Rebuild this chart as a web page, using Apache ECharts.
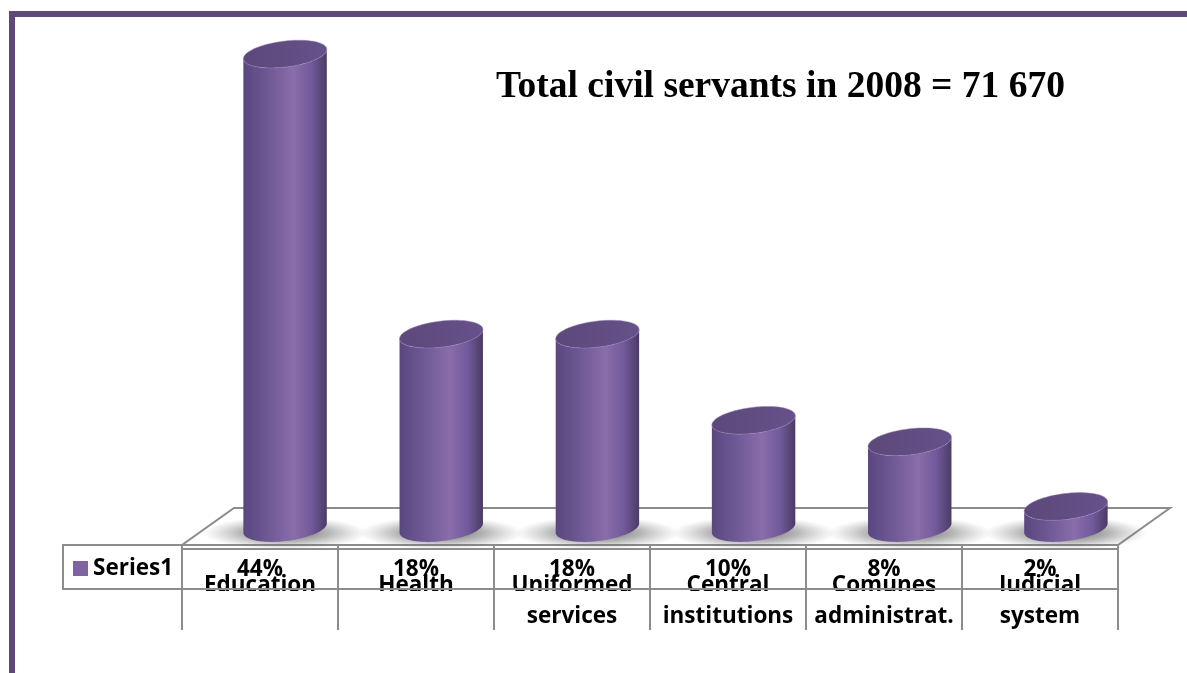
<!DOCTYPE html>
<html>
<head>
<meta charset="utf-8">
<script src="https://cdn.jsdelivr.net/npm/echarts@6/dist/echarts.min.js"></script>
<style>
  html, body { margin: 0; padding: 0; background: #ffffff; }
  #main { width: 1187px; height: 673px; }
</style>
</head>
<body>
<div id="main"></div>
<script>
// Civil servants by sector, share of total (2008)
const categories = ['Education', 'Health', 'Uniformed\nservices', 'Central\ninstitutions', 'Comunes\nadministrat.', 'Judicial\nsystem'];
const values = [44, 18, 18, 10, 8, 2];
const seriesName = 'Series1';
const titleText = 'Total civil servants in 2008 = 71 670';

// layout of the two grids: 3D bars (0) and data table (1)
const GRID_BARS = { left: 207, right: 43, top: 11, bottom: 145 };
const GRID_TABLE = { left: 182, right: 69, top: 545, height: 85 };
const DEPTH = { dx: 52, dy: -37 };   // floor depth offset
const LINE = '#8c8c8c';
const FRAME = '#5f497a';
const CELL_FONT = '"Open Sans", sans-serif';

// cylinder geometry
const RX = 42, RY = 13, TILT = -7 * Math.PI / 180;
const cT = Math.cos(TILT), sT = Math.sin(TILT);
const T0 = Math.atan(-RY * sT / (RX * cT));

function ellPt(cx, cy, t) {
  const ex = RX * Math.cos(t), ey = RY * Math.sin(t);
  return [cx + ex * cT - ey * sT, cy + ex * sT + ey * cT];
}
function arc(cx, cy, from, to, n) {
  const pts = [];
  for (let k = 0; k <= n; k++) pts.push(ellPt(cx, cy, from + (to - from) * k / n));
  return pts;
}

const chart = echarts.init(document.getElementById('main'));

const bodyGradient = new echarts.graphic.LinearGradient(0, 0, 1, 0, [
  { offset: 0, color: '#5a477f' },
  { offset: 0.3, color: '#6f5996' },
  { offset: 0.6, color: '#8a6dab' },
  { offset: 0.82, color: '#71599a' },
  { offset: 1, color: '#4b3b64' }
]);
const capGradient = new echarts.graphic.LinearGradient(0, 0, 1, 0, [
  { offset: 0, color: '#5c4879' },
  { offset: 1, color: '#66528a' }
]);
const shadowGradient = new echarts.graphic.RadialGradient(0.5, 0.5, 0.5, [
  { offset: 0, color: 'rgba(40,40,40,0.75)' },
  { offset: 0.55, color: 'rgba(80,80,80,0.4)' },
  { offset: 1, color: 'rgba(120,120,120,0)' }
]);

function renderCylinder(params, api) {
  const i = api.value(0), v = api.value(1);
  const top = api.coord([i, v]);
  const base = api.coord([i, 0]);
  const cx = base[0];
  const bottomArc = arc(cx, base[1], T0, T0 + Math.PI, 40);
  const topArc = arc(cx, top[1], T0 + Math.PI, T0, 40);
  const cap = arc(cx, top[1], 0, Math.PI * 2, 72);
  return {
    type: 'group',
    children: [
      {
        type: 'circle',
        shape: { cx: cx, cy: base[1] + 5, r: 82 },
        scaleY: 0.2, originX: cx, originY: base[1] + 5,
        style: { fill: shadowGradient }
      },
      {
        type: 'polygon',
        shape: { points: bottomArc.concat(topArc) },
        style: { fill: bodyGradient }
      },
      {
        type: 'polygon',
        shape: { points: cap },
        style: { fill: capGradient, stroke: 'rgba(150,130,190,0.6)', lineWidth: 0.8 }
      }
    ]
  };
}

function renderCell(params, api) {
  const i = api.value(0), v = api.value(1);
  const cs = params.coordSys;
  const cx = api.coord([i, 0])[0];
  const w = api.size([1, 0])[0];
  const x0 = cx - w / 2, x1 = cx + w / 2;
  const yTop = cs.y + 4, yMid = cs.y + 44, yBot = cs.y + cs.height;
  const lines = categories[i].split('\n');
  const font = { fontFamily: CELL_FONT, fontWeight: 'bold', fontSize: 22.5, fill: '#000', align: 'center', verticalAlign: 'middle' };
  const children = [
    { type: 'text', style: Object.assign({ text: v + '%', x: cx, y: cs.y + 25 }, font) },
    { type: 'text', style: Object.assign({ text: lines[0], x: cx, y: cs.y + 41 }, font) },
    // first category line is cut off by the row border
    { type: 'rect', shape: { x: x0 + 2, y: yMid + 2, width: w - 4, height: 10 }, style: { fill: '#fff' } },
    { type: 'line', shape: { x1: x0, y1: yTop, x2: x1, y2: yTop }, style: { stroke: LINE, lineWidth: 2 } },
    { type: 'line', shape: { x1: x0, y1: yMid, x2: x1, y2: yMid }, style: { stroke: LINE, lineWidth: 2 } },
    { type: 'line', shape: { x1: x0, y1: yTop - 4, x2: x0, y2: yBot }, style: { stroke: LINE, lineWidth: 2 } },
    { type: 'line', shape: { x1: x1, y1: yTop - 4, x2: x1, y2: yBot }, style: { stroke: LINE, lineWidth: 2 } }
  ];
  if (lines[1]) {
    children.push({ type: 'text', style: Object.assign({ text: lines[1], x: cx, y: cs.y + 72 }, font) });
  }
  return { type: 'group', children: children };
}

// floor of the 3D plot, following the table's front edge
const fl = GRID_TABLE.left, fr = 1187 - GRID_TABLE.right, fy = GRID_TABLE.top;
const floorPts = [[fl, fy], [fr, fy], [fr + DEPTH.dx, fy + DEPTH.dy], [fl + DEPTH.dx, fy + DEPTH.dy]];

chart.setOption({
  animation: false,
  backgroundColor: '#ffffff',
  title: {
    text: titleText,
    left: 496, top: 68, padding: 0,
    textStyle: { fontFamily: '"Liberation Serif", "Times New Roman", serif', fontWeight: 'bold', fontSize: 37.5, color: '#000' }
  },
  legend: {
    data: [seriesName],
    left: 73, top: 557, padding: 0,
    icon: 'rect', itemWidth: 15, itemHeight: 15,
    textStyle: { fontFamily: CELL_FONT, fontWeight: 'bold', fontSize: 22.5, color: '#000' }
  },
  grid: [
    Object.assign({}, GRID_BARS),
    Object.assign({}, GRID_TABLE)
  ],
  xAxis: [
    { type: 'category', gridIndex: 0, data: categories, show: false },
    { type: 'category', gridIndex: 1, data: categories, show: false }
  ],
  yAxis: [
    { type: 'value', gridIndex: 0, min: 0, max: 48, show: false },
    { type: 'value', gridIndex: 1, min: 0, max: 1, show: false }
  ],
  graphic: [
    { type: 'polygon', z: 0, shape: { points: floorPts }, style: { fill: '#fff', stroke: LINE, lineWidth: 2 } },
    // legend cell of the data table
    { type: 'rect', z: 3, shape: { x: 63, y: 545, width: fl - 63, height: 44 }, style: { fill: 'none', stroke: LINE, lineWidth: 2 } },
    // page frame
    { type: 'rect', z: 10, shape: { x: 9, y: 11, width: 1178, height: 6 }, style: { fill: FRAME } },
    { type: 'rect', z: 10, shape: { x: 9, y: 11, width: 6, height: 662 }, style: { fill: FRAME } }
  ],
  series: [
    {
      type: 'custom', name: seriesName, xAxisIndex: 0, yAxisIndex: 0, z: 2,
      itemStyle: { color: '#8064A2' },
      encode: { x: 0, y: 1 },
      data: values.map((v, i) => [i, v]),
      renderItem: renderCylinder
    },
    {
      type: 'custom', name: 'Data table', xAxisIndex: 1, yAxisIndex: 1, z: 3,
      encode: { x: 0 },
      data: values.map((v, i) => [i, v]),
      renderItem: renderCell
    }
  ]
});
</script>
</body>
</html>
